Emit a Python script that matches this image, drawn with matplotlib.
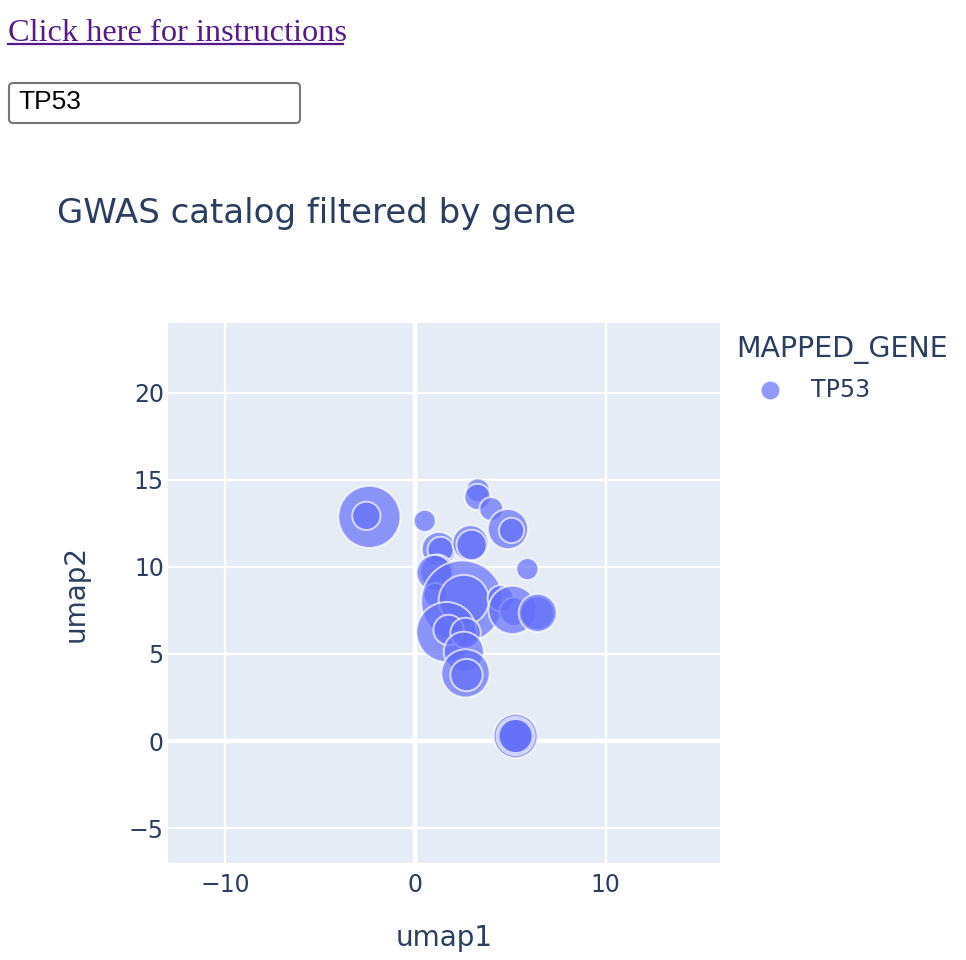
import numpy as np
import matplotlib
matplotlib.use('Agg')
from matplotlib import pyplot as plt
from matplotlib.patches import FancyBboxPatch
from matplotlib.lines import Line2D
from matplotlib.transforms import IdentityTransform

# umap coordinates and bubble size column for the TP53 hits
umap1 = [-2.42, -2.58, 0.49, 3.28, 3.26, 3.98, 4.86, 5.05, 5.88, 1.23, 1.32,
         2.89, 2.95, 1.14, 1.00, 1.05, 2.46, 2.54, 4.47, 5.17, 5.10, 6.41,
         6.42, 1.63, 1.74, 2.63, 2.54, 2.63, 2.68, 5.26, 5.26, 5.26]
umap2 = [12.87, 12.93, 12.64, 14.39, 14.02, 13.32, 12.17, 12.09, 9.87, 11.02, 10.98,
         11.36, 11.26, 9.73, 9.66, 8.39, 8.01, 8.10, 8.20, 7.43, 7.53, 7.34,
         7.36, 6.26, 6.38, 6.21, 5.13, 3.89, 3.79, 0.29, 0.29, 0.29]
size = [96, 20, 12, 14, 17, 14, 40, 16, 12, 29, 17,
        32, 23, 29, 32, 14, 168, 63, 17, 20, 58, 29,
        36, 90, 23, 23, 40, 58, 26, 48, 36, 29]
gene = 'TP53'

W, H = 966, 960
fig = plt.figure(figsize=(W / 100, H / 100), dpi=100)
plt.rcParams['font.family'] = 'DejaVu Sans'

def fx(x):
    return x / W

def fy(y):
    return 1 - y / H

# page header: link + input box
fig.text(fx(8), fy(41), 'Click here for instructions', family='Liberation Serif',
         fontsize=23.3, color='#551A8B', va='baseline')
fig.add_artist(Line2D([fx(8), fx(343)], [fy(44), fy(44)], color='#551A8B', lw=1.6))
box = FancyBboxPatch((9, H - 123), 291, 40, boxstyle='round,pad=0,rounding_size=4',
                     transform=IdentityTransform(), fc='white', ec='#767676', lw=1.5)
fig.add_artist(box)
fig.text(fx(18), fy(102), gene, family='Liberation Sans', fontsize=19, color='black', va='center')

fig.text(fx(57), fy(213), 'GWAS catalog filtered by gene',
         fontsize=24.5, color='#2a3f5f', va='center')

ax = fig.add_axes([fx(168), fy(863), (720 - 168) / W, (863 - 323) / H])
ax.set_facecolor('#E5ECF6')
for s in ax.spines.values():
    s.set_visible(False)

ax.set_xlim(-13, 16)
ax.set_ylim(-7, 24)
ax.set_xticks([-10, 0, 10])
ax.set_yticks([-5, 0, 5, 10, 15, 20])
ax.set_xticklabels(['\u221210', '0', '10'])
ax.set_yticklabels(['\u22125', '0', '5', '10', '15', '20'])
ax.grid(True, color='white', lw=1.6)
ax.set_axisbelow(True)
ax.axvline(0, color='white', lw=3.2, zorder=1)
ax.axhline(0, color='white', lw=3.2, zorder=1)
ax.tick_params(length=0, labelsize=17, labelcolor='#2a3f5f')
ax.tick_params(axis='y', pad=3)
ax.tick_params(axis='x', pad=7)

sz = np.array(size, dtype=float)
rmax = 41  # pixel radius of the largest bubble
diam_pt = 2 * rmax * np.sqrt(sz / sz.max()) * 0.72
ax.scatter(umap1, umap2, s=diam_pt ** 2, color='#636EFA', alpha=0.7,
           edgecolors='white', linewidths=1.4, zorder=3)

ax.set_xlabel('umap1', fontsize=20, color='#2a3f5f', labelpad=20)
ax.set_ylabel('umap2', fontsize=20, color='#2a3f5f', labelpad=28)

# legend
fig.text(fx(736), fy(350), 'MAPPED_GENE', fontsize=20.5,
         color='#2a3f5f', va='center')
fig.add_artist(Line2D([fx(770)], [fy(390)], marker='o', ms=13.5, color='#636EFA',
                      alpha=0.7, mec='white', mew=0.8, ls='none'))
fig.text(fx(811), fy(390), gene, fontsize=17,
         color='#2a3f5f', va='center')

fig.savefig('out.png', dpi=100)
